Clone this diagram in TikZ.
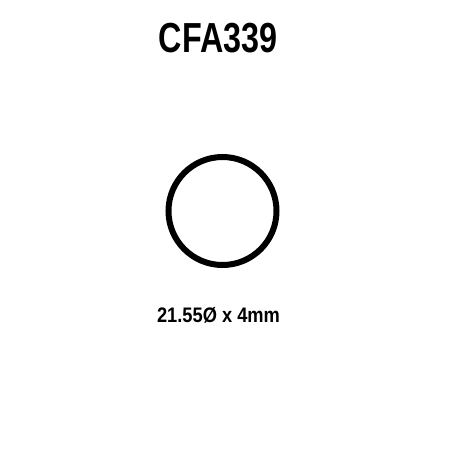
\documentclass[tikz,border=0pt]{standalone}
\usepackage{fontspec}
\setmainfont{Liberation Sans}
\begin{document}
\begin{tikzpicture}[x=1pt,y=-1pt,
  lbl/.style={inner sep=0pt,anchor=base,font=\bfseries}]
\useasboundingbox[fill=white] (0,0) rectangle (450,450);
\node[lbl,font=\fontsize{42}{48}\selectfont\bfseries,xscale=0.77] (title) at (218,52) {CFA339};
\node[draw,line width=6pt,circle,minimum size=108pt,inner sep=0pt] (ring) at (222.5,211) {};
\node[lbl,font=\fontsize{21}{25}\selectfont\bfseries,xscale=0.87] (size) at (218.5,322) {21.55Ø x 4mm};
\end{tikzpicture}
\end{document}
